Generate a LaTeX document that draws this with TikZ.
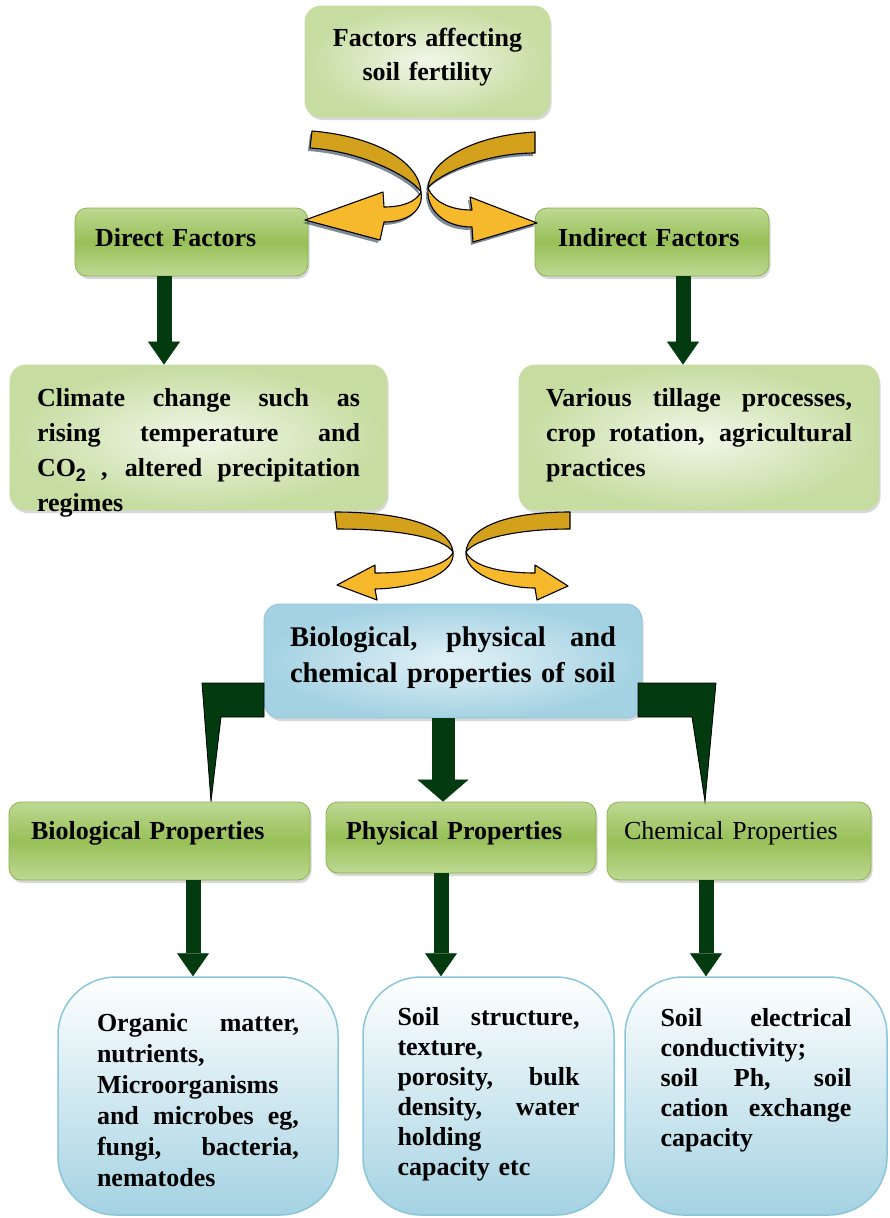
\documentclass[tikz,border=0pt]{standalone}
\usepackage{fontspec}
\setmainfont{Liberation Serif}
\setsansfont{Liberation Sans}
\usetikzlibrary{arrows.meta,shadows}

\definecolor{leafpale}{RGB}{241,247,233}
\definecolor{leaflight}{RGB}{198,220,160}
\definecolor{leafmid}{RGB}{152,192,88}
\definecolor{leaftop}{RGB}{190,216,146}
\definecolor{leafline}{RGB}{138,178,78}
\definecolor{skypale}{RGB}{226,241,247}
\definecolor{skymid}{RGB}{164,210,226}
\definecolor{skyline}{RGB}{138,198,218}
\definecolor{goldback}{RGB}{212,161,28}
\definecolor{goldfront}{RGB}{246,185,43}
\definecolor{arrowgreen}{RGB}{4,58,16}

\newcommand{\jline}[1]{\leavevmode\hbox to \hsize{\spaceskip=0.25em plus 10em\relax #1}}
\newcommand{\cotwo}{CO{\sffamily\fontsize{18}{18}\selectfont\raisebox{-5pt}{2}}}

\tikzset{
  every node/.style={inner sep=0pt},
  softshadow/.style={drop shadow={opacity=0.3,shadow xshift=1.5pt,shadow yshift=-3pt}},
  palebox/.style={draw=leaflight, line width=0.8pt, rounded corners=16pt, inner color=leafpale, outer color=leaflight, softshadow},
  leafbox/.style={draw=leafline, line width=0.8pt, rounded corners=12pt, top color=leaftop, bottom color=leaftop, middle color=leafmid, softshadow},
  skybox/.style={draw=skyline, line width=0.8pt, rounded corners=16pt, inner color=skypale, outer color=skymid, softshadow},
  cupbox/.style={draw=skyline, line width=1.5pt, rounded corners=58pt, top color=white, bottom color=skymid},
  ribbonback/.style={fill=goldback, draw=black, line width=1.1pt, line join=round},
  ribbonfront/.style={fill=goldfront, draw=black, line width=1.1pt, line join=round},
  ribbonshade/.style={fill={rgb,255:red,40;green,60;blue,80}, opacity=0.6},
  downarrow/.style={draw=arrowgreen, line width=15pt, -{Triangle[width=32pt,length=23pt,line width=0.5pt]}},
  bigarrow/.style={draw=arrowgreen, line width=23pt, -{Triangle[width=51pt,length=22pt,line width=0.5pt]}},
  bentarrow/.style={fill=arrowgreen, draw=black, line width=0.8pt, line join=miter}
}

\begin{document}
\begin{tikzpicture}[x=1pt,y=1pt,yscale=-1]
	\useasboundingbox (0,0) rectangle (889,1218);
	\fill[white] (0,0) rectangle (889,1218);

	% top level
	\node[palebox, minimum width=245pt, minimum height=111pt, text width=210pt, align=center, text height=40pt, text depth=71pt, font=\fontsize{26}{34}\selectfont\bfseries] (fertility) at (427.5,61.5) {Factors affecting\\soil fertility};
	\node[leafbox, minimum width=233pt, minimum height=68pt, text width=193pt, align=left, text height=38pt, text depth=30pt, font=\fontsize{26}{30}\selectfont\bfseries] (direct) at (191.5,242) {Direct Factors};
	\node[leafbox, minimum width=234pt, minimum height=68pt, text width=188pt, align=left, text height=38pt, text depth=30pt, font=\fontsize{26}{30}\selectfont\bfseries] (indirect) at (652,242) {Indirect Factors};

	% factor details
	\node[palebox, minimum width=377pt, minimum height=145pt, text width=323pt, align=left, text height=41pt, text depth=104pt, font=\fontsize{26}{35}\selectfont\bfseries] (climate) at (198.5,437.5) {\jline{Climate change such as}\\\jline{rising temperature and}\\\jline{\cotwo\ , altered precipitation}\\regimes};
	\node[palebox, minimum width=360pt, minimum height=145pt, text width=306pt, align=left, text height=41pt, text depth=104pt, font=\fontsize{26}{35}\selectfont\bfseries] (tillage) at (699,437.5) {\jline{Various tillage processes,}\\\jline{crop rotation, agricultural}\\practices};

	% soil properties
	\node[skybox, minimum width=378pt, minimum height=114pt, text width=326pt, align=left, text height=42pt, text depth=72pt, font=\fontsize{28.5}{36}\selectfont\bfseries] (props) at (453,661) {\jline{Biological, physical and}\\chemical properties of soil};
	\node[leafbox, minimum width=301pt, minimum height=78pt, text width=257pt, align=left, text height=37pt, text depth=41pt, font=\fontsize{26}{30}\selectfont\bfseries] (bioprop) at (159.5,841) {Biological Properties};
	\node[leafbox, minimum width=270pt, minimum height=71pt, text width=230pt, align=left, text height=37pt, text depth=34pt, font=\fontsize{26}{30}\selectfont\bfseries] (physprop) at (461,837.5) {Physical Properties};
	\node[leafbox, minimum width=264pt, minimum height=78pt, text width=230pt, align=left, text height=37pt, text depth=41pt, font=\fontsize{26}{30}\selectfont] (chemprop) at (739,841) {Chemical Properties};

	% property details
	\node[cupbox, minimum width=280pt, minimum height=238pt, text width=202pt, align=left, text height=54pt, text depth=184pt, font=\fontsize{26}{31}\selectfont\bfseries] (biodesc) at (198,1096) {\jline{Organic matter,}\\nutrients,\\Microorganisms\\\jline{and microbes eg,}\\\jline{fungi, bacteria,}\\nematodes};
	\node[cupbox, minimum width=251pt, minimum height=238pt, text width=182pt, align=left, text height=48pt, text depth=190pt, font=\fontsize{26}{30}\selectfont\bfseries] (physdesc) at (488.5,1096) {\jline{Soil structure,}\\texture,\\\jline{porosity, bulk}\\\jline{density, water}\\holding\\capacity etc};
	\node[cupbox, minimum width=262pt, minimum height=238pt, text width=191pt, align=left, text height=49pt, text depth=189pt, font=\fontsize{26}{30}\selectfont\bfseries] (chemdesc) at (756,1096) {\jline{Soil electrical}\\conductivity;\\\jline{soil Ph, soil}\\\jline{cation exchange}\\capacity};

	% straight arrows
	\draw[downarrow] (164,0 |- direct.south) -- (164,0 |- climate.north);
	\draw[downarrow] (683,0 |- indirect.south) -- (683,0 |- tillage.north);
	\draw[bigarrow] (443,0 |- props.south) -- (443,0 |- physprop.north);
	\draw[downarrow] (193,0 |- bioprop.south) -- (193,0 |- biodesc.north);
	\draw[downarrow] (441,0 |- physprop.south) -- (441,0 |- physdesc.north);
	\draw[downarrow] (706,0 |- chemprop.south) -- (706,0 |- chemdesc.north);

	% bent arrows
	\draw[bentarrow] (264,683) -- (202,683) -- (211,0 |- bioprop.north) -- (221,717) -- (264,717) -- cycle;
	\draw[bentarrow] (638,683) -- (716,683) -- (705,0 |- chemprop.north) -- (692,717) -- (638,717) -- cycle;

	% twisted arrows under the top box
	\begin{scope}[shift={(-2,3)}]
		\fill[ribbonshade] (312,131) .. controls (372,136) and (419,160) .. (421,192) .. controls (416,202) and (402,207) .. (384,207) -- (383,192) -- (305,220) -- (380,240) -- (384,222) .. controls (408,222) and (424,210) .. (421,192) .. controls (414,180) and (368,152) .. (310,148) -- cycle;
		\fill[ribbonshade] (535,132) .. controls (478,135) and (430,158) .. (428,188) .. controls (426,208) and (442,227) .. (472,227) -- (473,242) -- (537,223) -- (470,197) -- (472,210) .. controls (450,210) and (434,202) .. (428,188) .. controls (436,176) and (482,153) .. (535,153) -- cycle;
	\end{scope}
	\draw[ribbonback] (312,131) .. controls (372,136) and (419,160) .. (421,192) .. controls (414,180) and (368,152) .. (310,148) -- cycle;
	\draw[ribbonfront] (421,192) .. controls (416,202) and (402,207) .. (384,207) -- (383,192) -- (305,220) -- (380,240) -- (384,222) .. controls (408,222) and (424,210) .. (421,192) -- cycle;
	\draw[ribbonback] (535,132) .. controls (478,135) and (430,158) .. (428,188) .. controls (436,176) and (482,153) .. (535,153) -- cycle;
	\draw[ribbonfront] (428,188) .. controls (426,208) and (442,227) .. (472,227) -- (473,242) -- (537,223) -- (470,197) -- (472,210) .. controls (450,210) and (434,202) .. (428,188) -- cycle;

	% twisted arrows above the properties box
	\draw[ribbonback] (335,512) .. controls (400,512) and (450,525) .. (453,552) .. controls (444,538) and (400,529) .. (337,529) -- cycle;
	\draw[ribbonfront] (453,552) .. controls (448,566) and (412,573) .. (375,573) -- (375,565) -- (337,585) -- (377,600) -- (375,589) .. controls (420,588) and (456,572) .. (453,552) -- cycle;
	\draw[ribbonback] (570,512) .. controls (505,512) and (468,528) .. (466,552) .. controls (476,538) and (520,529) .. (570,529) -- cycle;
	\draw[ribbonfront] (466,552) .. controls (464,572) and (500,588) .. (535,588) -- (537,600) -- (568,586) -- (535,565) -- (535,573) .. controls (500,573) and (472,566) .. (466,552) -- cycle;
\end{tikzpicture}
\end{document}
